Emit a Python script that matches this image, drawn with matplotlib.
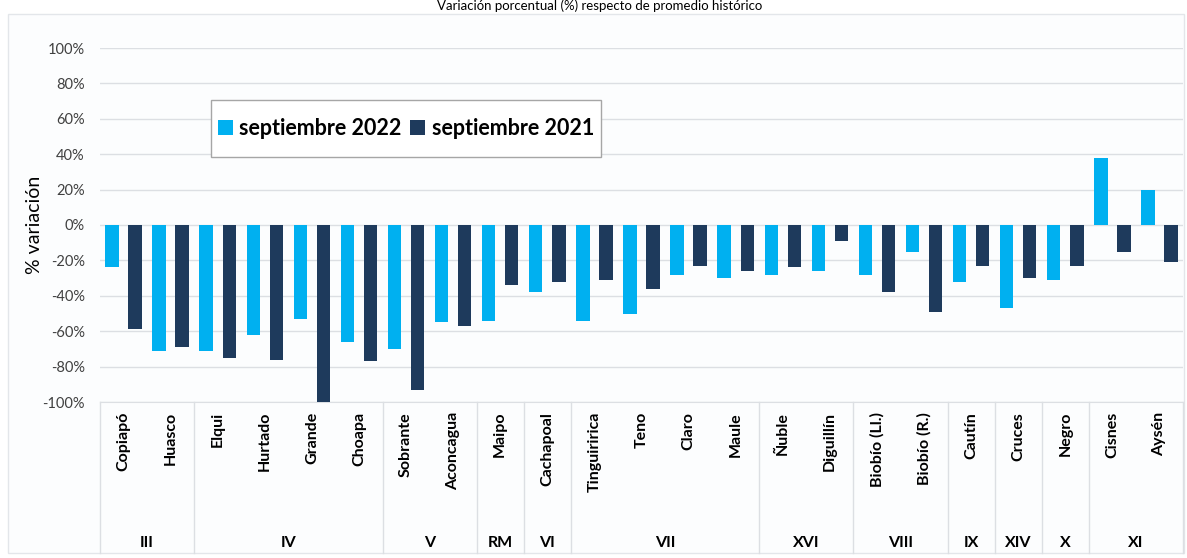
import matplotlib
matplotlib.use('Agg')
import matplotlib.pyplot as plt
from matplotlib.patches import Rectangle
import numpy as np

# datos
rivers = ['Copiapó', 'Huasco', 'Elqui', 'Hurtado', 'Grande', 'Choapa',
          'Sobrante', 'Aconcagua', 'Maipo', 'Cachapoal', 'Tinguiririca',
          'Teno', 'Claro', 'Maule', 'Ñuble', 'Diguillín', 'Biobío (Ll.)',
          'Biobío (R.)', 'Cautín', 'Cruces', 'Negro', 'Cisnes', 'Aysén']
sep_2022 = [-24, -71, -71, -62, -53, -66, -70, -55, -54, -38, -54,
            -50, -28, -30, -28, -26, -28, -15, -32, -47, -31, 38, 20]
sep_2021 = [-59, -69, -75, -76, -100, -77, -93, -57, -34, -32, -31,
            -36, -23, -26, -24, -9, -38, -49, -23, -30, -23, -15, -21]
regions = ['III', 'IV', 'V', 'RM', 'VI', 'VII', 'XVI', 'VIII', 'IX', 'XIV', 'X', 'XI']
region_sizes = [2, 4, 2, 1, 1, 4, 2, 2, 1, 1, 1, 2]

LIGHT = '#00B0F0'
DARK = '#1E3A5C'
GRID = '#DCDFE3'
FONT = ['Lato', 'DejaVu Sans']

W, H = 1187, 558
fig = plt.figure(figsize=(W / 100, H / 100), dpi=100)
fig.patch.set_facecolor('white')

# marco del área del gráfico
fig.add_artist(Rectangle((8 / W, 1 - 553 / H), (1184 - 8) / W, (553 - 14) / H,
                         transform=fig.transFigure, facecolor='#FCFDFE',
                         edgecolor='#E3E6EA', linewidth=1, zorder=-10))

fig.text(0.505, 1 - 10 / H, 'Variación porcentual (%) respecto de promedio histórico',
         ha='center', va='baseline', fontsize=9.5, family=FONT)

ax = fig.add_axes([100 / W, 1 - 402 / H, (1183 - 100) / W, 354 / H])
ax.set_facecolor('none')

x = np.arange(len(rivers))
ax.bar(x - 0.245, sep_2022, width=0.285, color=LIGHT, label='septiembre 2022', zorder=3)
ax.bar(x + 0.245, sep_2021, width=0.285, color=DARK, label='septiembre 2021', zorder=3)

ax.set_xlim(-0.5, len(rivers) - 0.5)
ax.set_ylim(-100, 100)
ax.set_yticks(np.arange(-100, 101, 20))
ax.set_yticklabels([f'{v}%' for v in range(-100, 101, 20)], family=FONT,
                   fontsize=10.5, color='#404040')
ax.yaxis.grid(True, color=GRID, linewidth=1, zorder=0)
ax.tick_params(axis='y', length=0, pad=11)
ax.set_xticks([])
for s in ['top', 'right', 'left']:
    ax.spines[s].set_visible(False)
ax.spines['bottom'].set_color(GRID)

ax.set_ylabel('% variación', family=FONT, fontsize=14)
ax.yaxis.set_label_coords(-0.053, 0.5)

# etiquetas de río (nivel 1)
for xi, name in zip(x, rivers):
    ax.text(xi, -0.028, name, transform=ax.get_xaxis_transform(), rotation=90,
            ha='center', va='top', fontsize=11.5, fontweight='bold', family=FONT)

# etiquetas de región (nivel 2) y divisores
bottom = -(553 - 402) / 354
edges = np.concatenate([[0], np.cumsum(region_sizes)]) - 0.5
for i, reg in enumerate(regions):
    mid = (edges[i] + edges[i + 1]) / 2
    ax.text(mid, -(543 - 402) / 354, reg, transform=ax.get_xaxis_transform(),
            ha='center', va='center', fontsize=11.5, fontweight='bold', family=FONT)
for e in edges:
    ax.plot([e, e], [0, bottom], transform=ax.get_xaxis_transform(),
            color=GRID, linewidth=1, clip_on=False)

# leyenda con marco propio (caja en píxeles 211..601 x 100..157)
box = ((211 - 100) / 1083, (402 - 157) / 354, (601 - 211) / 1083, 57 / 354)
ax.add_patch(Rectangle(box[:2], box[2], box[3], transform=ax.transAxes,
                       facecolor='white', edgecolor='#A6A6A6', linewidth=1, zorder=4))
leg = ax.legend(loc='center', bbox_to_anchor=box, borderaxespad=0, ncol=2,
                frameon=False, handlelength=0.7, handleheight=0.7,
                handletextpad=0.3, columnspacing=0.4, borderpad=0,
                prop={'family': FONT, 'weight': 'bold', 'size': 15.5})
leg.set_zorder(5)

fig.savefig('out.png', dpi=100, facecolor=fig.get_facecolor())
